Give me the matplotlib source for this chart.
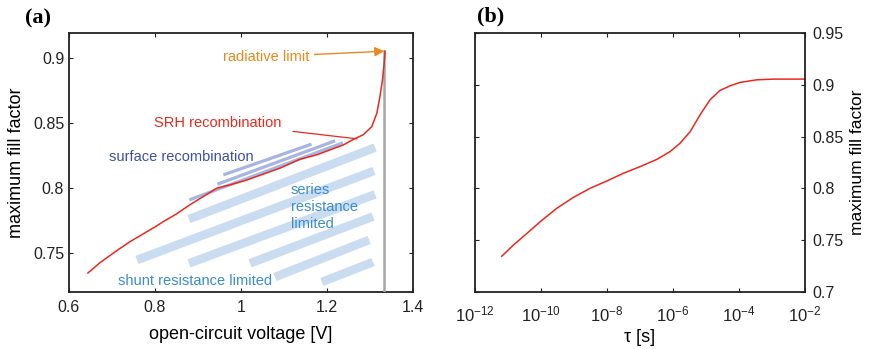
import numpy as np
import matplotlib
matplotlib.use("Agg")
import matplotlib.pyplot as plt
from matplotlib.ticker import FixedLocator, NullLocator

plt.rcParams['font.family'] = ['Liberation Sans', 'DejaVu Sans']
plt.rcParams['mathtext.fontset'] = 'custom'
plt.rcParams['mathtext.rm'] = 'Liberation Sans'

# ---------------- data: panel (a) ----------------
voc = [0.644, 0.672, 0.712, 0.742, 0.800, 0.819, 0.850, 0.881, 0.944, 0.974, 1.013,
       1.091, 1.137, 1.176, 1.238, 1.261, 1.284, 1.304, 1.316, 1.323, 1.329, 1.333, 1.335]
ff_a = [0.7346, 0.7425, 0.752, 0.7587, 0.770, 0.774, 0.7800, 0.787, 0.7998, 0.8023, 0.806,
        0.8152, 0.822, 0.8254, 0.833, 0.8372, 0.8408, 0.847, 0.8575, 0.870, 0.883, 0.896, 0.905]
rad_voc = 1.333
rad_ff = 0.905

# series / shunt resistance bands: (V start, FF start, V end, FF end)
band_v0 = [0.879, 0.758, 0.879, 1.021, 1.079, 1.188]
band_f0 = [0.776, 0.7446, 0.742, 0.742, 0.7315, 0.7277]
band_v1 = [1.312, 1.309, 1.312, 1.307, 1.298, 1.307]
band_f1 = [0.831, 0.813, 0.795, 0.778, 0.760, 0.743]

# surface recombination lines
surf_v0 = [0.959, 0.945, 0.880]
surf_f0 = [0.810, 0.8028, 0.7908]
surf_v1 = [1.164, 1.219, 1.237]
surf_f1 = [0.8336, 0.8362, 0.8346]

# ---------------- data: panel (b) ----------------
log_tau = [-11.19, -10.84, -10.43, -10.03, -9.53, -9.02, -8.52, -8.01, -7.51, -7.00, -6.49,
           -6.09, -5.79, -5.48, -5.18, -4.88, -4.58, -4.27, -3.97, -3.46, -2.96, -2.00]
ff_b = [0.7345, 0.7452, 0.7565, 0.7677, 0.7806, 0.7913, 0.800, 0.8071, 0.8145, 0.821, 0.828,
        0.8355, 0.8435, 0.8548, 0.871, 0.8855, 0.8945, 0.899, 0.9023, 0.9048, 0.9055, 0.9055]

xticks_a = [0.6, 0.8, 1.0, 1.2, 1.4]
xticklabels_a = ['0.6', '0.8', '1', '1.2', '1.4']
yticks_a = [0.75, 0.8, 0.85, 0.9]
yticklabels_a = ['0.75', '0.8', '0.85', '0.9']
yticks_b = [0.7, 0.75, 0.8, 0.85, 0.9, 0.95]
yticklabels_b = ['0.7', '0.75', '0.8', '0.85', '0.9', '0.95']
xticks_b = [1e-12, 1e-10, 1e-8, 1e-6, 1e-4, 1e-2]

W, H = 872, 349
fig = plt.figure(figsize=(W / 100, H / 100), dpi=100)

def frac(l, t, r, b):
    return [l / W, 1 - b / H, (r - l) / W, (b - t) / H]

axa = fig.add_axes(frac(69, 33, 413, 292))
axb = fig.add_axes(frac(475, 33, 805, 292))

red = '#e8291c'
band_col = '#c9dcf0'
surf_col = '#a8b4e2'

for ax in (axa, axb):
    for s in ax.spines.values():
        s.set_linewidth(1.3)
        s.set_color('#222222')
    ax.tick_params(direction='in', top=True, right=True, length=3, width=0.8,
                   labelsize=11.5, colors='#222222')

# ----- panel (a) -----
for v0, f0, v1, f1 in zip(band_v0, band_f0, band_v1, band_f1):
    axa.plot([v0, v1], [f0, f1], color=band_col, lw=6.2, solid_capstyle='butt', zorder=1)
for v0, f0, v1, f1 in zip(surf_v0, surf_f0, surf_v1, surf_f1):
    axa.plot([v0, v1], [f0, f1], color=surf_col, lw=2.3, solid_capstyle='butt', zorder=2)

axa.plot([rad_voc, rad_voc], [0.70, rad_ff], color='#a6a6a6', lw=1.8, zorder=3)
axa.plot(voc, ff_a, color=red, lw=1.1, zorder=4)

axa.set_xlim(0.6, 1.4)
axa.set_ylim(0.72, 0.919)
axa.xaxis.set_major_locator(FixedLocator(xticks_a))
axa.set_xticklabels(xticklabels_a)
axa.yaxis.set_major_locator(FixedLocator(yticks_a))
axa.set_yticklabels(yticklabels_a)
axa.tick_params(axis='x', pad=6)
axa.set_xlabel('open-circuit voltage [V]', fontsize=13, labelpad=8)
axa.set_ylabel('maximum fill factor', fontsize=13, labelpad=6)

axa.annotate('radiative limit', xy=(rad_voc, rad_ff), xytext=(1.158, 0.9008),
             color='#e8891c', fontsize=10.5, ha='right', va='center',
             arrowprops=dict(arrowstyle='-|>', color='#e8891c', lw=1.0,
                             mutation_scale=14, shrinkA=2, shrinkB=0))
axa.annotate('SRH recombination', xy=(1.27, 0.8377), xytext=(1.095, 0.850),
             color=red, fontsize=10.5, ha='right', va='center',
             arrowprops=dict(arrowstyle='-', color=red, lw=0.9, shrinkA=6, shrinkB=0))
axa.text(0.693, 0.824, 'surface recombination', color='#3d4fa6', fontsize=10.5,
         ha='left', va='center')
axa.text(1.116, 0.7854, 'series\nresistance\nlimited', color='#3a8ccf', fontsize=10.5,
         ha='left', va='center', linespacing=1.25)
axa.text(0.714, 0.7285, 'shunt resistance limited', color='#3a8ccf', fontsize=10.5,
         ha='left', va='center')

fig.text(25 / W, 1 - 18 / H, '(a)', fontsize=16, fontweight='bold',
         family='Liberation Serif', ha='left', va='center')
fig.text(477 / W, 1 - 16 / H, '(b)', fontsize=16, fontweight='bold',
         family='Liberation Serif', ha='left', va='center')

# ----- panel (b) -----
tau = [10.0 ** t for t in log_tau]
axb.plot(tau, ff_b, color=red, lw=1.1)
axb.set_xscale('log')
axb.set_xlim(1e-12, 1e-2)
axb.set_ylim(0.7, 0.95)
axb.xaxis.set_major_locator(FixedLocator(xticks_b))
axb.xaxis.set_minor_locator(NullLocator())
axb.set_xticklabels([r'$\mathdefault{10^{%d}}$' % int(np.log10(t)) for t in xticks_b])
axb.tick_params(axis='x', pad=9, labelsize=12)
axb.yaxis.set_major_locator(FixedLocator(yticks_b))
axb.set_yticklabels(yticklabels_b)
axb.yaxis.set_label_position('right')
axb.tick_params(axis='y', labelleft=False, labelright=True, pad=5)
axb.set_ylabel('maximum fill factor', fontsize=12.5, labelpad=5)
axb.set_xlabel('τ [s]', fontsize=13, labelpad=3)

fig.savefig('out.png', dpi=100)
